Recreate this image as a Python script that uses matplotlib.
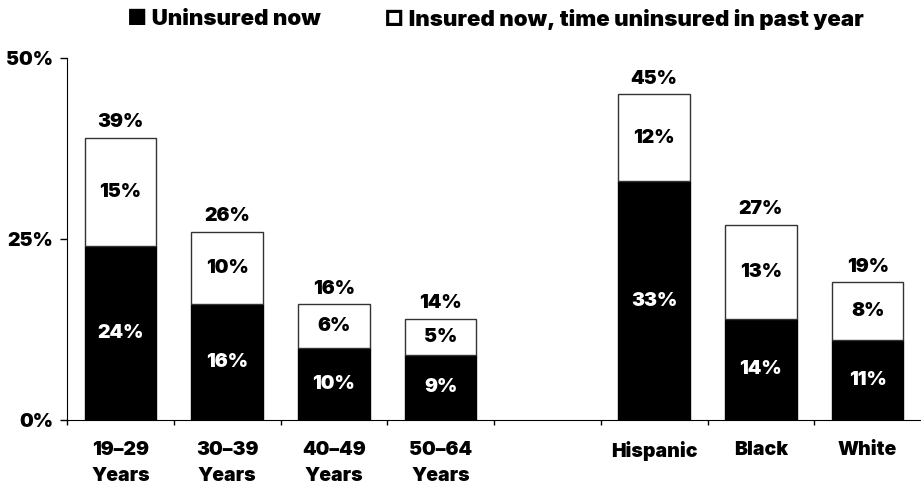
import numpy as np
import matplotlib
matplotlib.use("Agg")
from matplotlib import pyplot as plt

# values
groups = ["19\u201329\nYears", "30\u201339\nYears", "40\u201349\nYears", "50\u201364\nYears",
          "", "Hispanic", "Black", "White"]
uninsured = [24, 16, 10, 9, None, 33, 14, 11]
gap = [15, 10, 6, 5, None, 12, 13, 8]
totals = [39, 26, 16, 14, None, 45, 27, 19]

plt.rcParams['font.family'] = ['Inter', 'DejaVu Sans']
plt.rcParams['font.weight'] = 900
fs = 14

fig = plt.figure(figsize=(9.21, 4.91), dpi=100)
ax = fig.add_axes([67/921, 1-420/491, 1-67/921, (420-58)/491])

x = np.arange(len(groups))
w = 0.67
for i in x:
    if uninsured[i] is None:
        continue
    u, g, t = uninsured[i], gap[i], totals[i]
    ax.bar(i, u, width=w, color='black', edgecolor='black', linewidth=1)
    ax.bar(i, g, bottom=u, width=w, color='white', edgecolor='#333333', linewidth=1)
    ax.text(i, u/2, "%d%%" % u, color='white', ha='center', va='center', fontsize=fs, fontweight=900)
    ax.text(i, u + g/2, "%d%%" % g, color='black', ha='center', va='center', fontsize=fs, fontweight=900)
    ax.text(i, t + 0.9, "%d%%" % t, color='black', ha='center', va='bottom', fontsize=fs, fontweight=900)

ax.set_xlim(-0.5, 7.5)
ax.set_ylim(0, 50)
ax.set_yticks([0, 25, 50])
ax.set_yticklabels(["0%", "25%", "50%"], fontsize=fs, fontweight=900)
ax.set_xticks(x)
ax.set_xticklabels(groups, fontsize=fs, fontweight=900, linespacing=1.6)
ax.set_xticks(np.arange(-0.5, 7.0, 1), minor=True)
ax.tick_params(axis='x', which='major', length=0, pad=15)
ax.tick_params(axis='x', which='minor', length=3.6, width=1, direction='out')
ax.tick_params(axis='y', length=5, width=1, pad=5)
ax.spines['top'].set_visible(False)
ax.spines['right'].set_visible(False)

fig.text(127/921, 1-19/491, "\u25a0 Uninsured now", fontsize=16, fontweight=900, va='center')
fig.text(384/921, 1-19/491, "\u25a1 Insured now, time uninsured in past year", fontsize=16,
         fontweight=900, va='center')

fig.savefig("out.png", dpi=100)
